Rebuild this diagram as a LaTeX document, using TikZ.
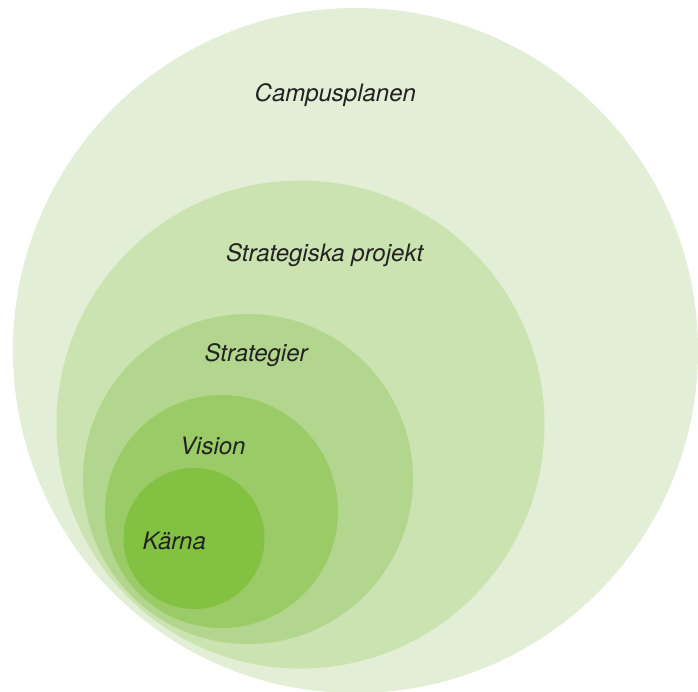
\documentclass[tikz,border=0pt]{standalone}
\usepackage{fontspec}
\setmainfont{TeX Gyre Heros}
\definecolor{cA}{RGB}{226,238,213}
\definecolor{cB}{RGB}{203,227,176}
\definecolor{cC}{RGB}{179,214,142}
\definecolor{cD}{RGB}{155,203,102}
\definecolor{cE}{RGB}{130,193,66}
\definecolor{txt}{RGB}{34,34,34}
\tikzset{
  ring/.style={circle,inner sep=0pt,draw=none},
  lbl/.style={anchor=base west,inner sep=0pt,text=txt,font=\fontsize{24}{28}\selectfont\itshape}
}
\begin{document}
\begin{tikzpicture}[x=1pt,y=-1pt]
\useasboundingbox (0,0) rectangle (698,691);
\clip (0,0) rectangle (698,691);
\fill[white] (0,0) rectangle (698,691);
\node[ring,fill=cA,minimum size=685pt] (c1) at (355.5,350.5) {};
\node[ring,fill=cB,minimum size=488pt] (c2) at (300.5,424.5) {};
\node[ring,fill=cC,minimum size=330pt] (c3) at (248,479) {};
\node[ring,fill=cD,minimum size=233pt] (c4) at (221.5,511.5) {};
\node[ring,fill=cE,minimum size=141pt] (c5) at (194,538.5) {};
\node[lbl] (t1) at (254.5,101.5) {Campusplanen};
\node[lbl] (t2) at (226,261.5) {Strategiska projekt};
\node[lbl] (t3) at (204.5,361) {Strategier};
\node[lbl] (t4) at (180,454) {Vision};
\node[lbl] (t5) at (142.5,549) {Kärna};
\end{tikzpicture}
\end{document}
